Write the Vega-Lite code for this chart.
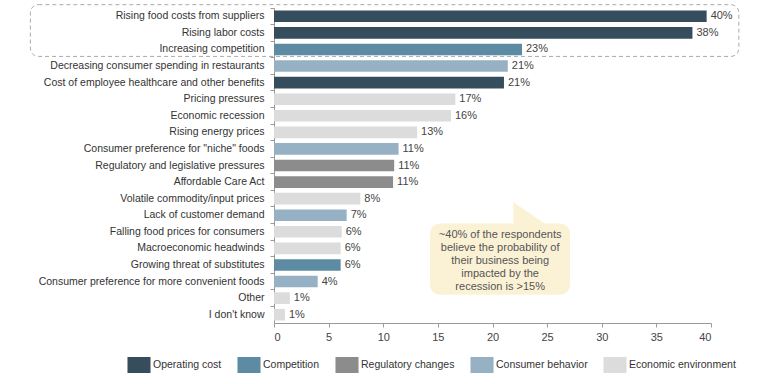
{
  "$schema": "https://vega.github.io/schema/vega-lite/v6.json",
  "autosize": "none",
  "width": 437,
  "height": 315,
  "padding": {"left": 274, "top": 8, "right": 73, "bottom": 61},
  "background": "white",
  "config": {
    "view": {"stroke": null},
    "font": "Liberation Sans",
    "text": {"font": "Liberation Sans"}
  },
  "datasets": {
    "bars": [
      {"cat": "Rising food costs from suppliers", "value": 39.6, "label": "40%", "group": "Operating cost"},
      {"cat": "Rising labor costs", "value": 38.3, "label": "38%", "group": "Operating cost"},
      {"cat": "Increasing competition", "value": 22.7, "label": "23%", "group": "Competition"},
      {"cat": "Decreasing consumer spending in restaurants", "value": 21.4, "label": "21%", "group": "Consumer behavior"},
      {"cat": "Cost of employee healthcare and other benefits", "value": 21.05, "label": "21%", "group": "Operating cost"},
      {"cat": "Pricing pressures", "value": 16.6, "label": "17%", "group": "Economic environment"},
      {"cat": "Economic recession", "value": 16.2, "label": "16%", "group": "Economic environment"},
      {"cat": "Rising energy prices", "value": 13.1, "label": "13%", "group": "Economic environment"},
      {"cat": "Consumer preference for \"niche\" foods", "value": 11.4, "label": "11%", "group": "Consumer behavior"},
      {"cat": "Regulatory and legislative pressures", "value": 11.0, "label": "11%", "group": "Regulatory changes"},
      {"cat": "Affordable Care Act", "value": 10.9, "label": "11%", "group": "Regulatory changes"},
      {"cat": "Volatile commodity/input prices", "value": 7.9, "label": "8%", "group": "Economic environment"},
      {"cat": "Lack of customer demand", "value": 6.65, "label": "7%", "group": "Consumer behavior"},
      {"cat": "Falling food prices for consumers", "value": 6.2, "label": "6%", "group": "Economic environment"},
      {"cat": "Macroeconomic headwinds", "value": 6.1, "label": "6%", "group": "Economic environment"},
      {"cat": "Growing threat of substitutes", "value": 6.1, "label": "6%", "group": "Competition"},
      {"cat": "Consumer preference for more convenient foods", "value": 4.0, "label": "4%", "group": "Consumer behavior"},
      {"cat": "Other", "value": 1.45, "label": "1%", "group": "Economic environment"},
      {"cat": "I don't know", "value": 1.0, "label": "1%", "group": "Economic environment"}
    ],
    "box": [{"x": -22.3, "x2": 42.55, "y": -0.2, "y2": 2.92}],
    "callout": [{"x": 14.28, "x2": 27.1, "y": 13.0, "y2": 17.3, "tx": 20.7, "ty": 13.7, "text": "~40% of the respondents\nbelieve the probability of\ntheir business being\nimpacted by the\nrecession is >15%"}],
    "pointer": [
      {"x": 21.9, "top": 11.7, "base": 13.1},
      {"x": 25.0, "top": 13.1, "base": 13.1}
    ]
  },
  "layer": [
    {
      "data": {"name": "bars"},
      "encoding": {
        "y": {
          "field": "cat", "type": "nominal", "sort": null, "title": null,
          "scale": {"paddingInner": 0.3, "paddingOuter": 0.15},
          "axis": {
            "domainColor": "#9a9a9a", "tickColor": "#9a9a9a", "tickSize": 4,
            "bandPosition": -0.21, "labelFontSize": 10.5, "labelColor": "#333333",
            "labelPadding": 6, "labelLimit": 400
          }
        },
        "x": {
          "field": "value", "type": "quantitative", "title": null,
          "scale": {"domain": [0, 40], "nice": false},
          "axis": {
            "values": [0, 5, 10, 15, 20, 25, 30, 35, 40], "grid": false,
            "domainColor": "#9a9a9a", "tickColor": "#9a9a9a", "tickSize": 4,
            "labelFontSize": 11, "labelColor": "#444444", "labelPadding": 4
          }
        }
      },
      "layer": [
        {
          "mark": {"type": "bar"},
          "encoding": {
            "color": {
              "field": "group", "type": "nominal",
              "scale": {
                "domain": ["Operating cost", "Competition", "Regulatory changes", "Consumer behavior", "Economic environment"],
                "range": ["#364d5e", "#5e8ba4", "#8c8c8c", "#96b1c3", "#dcdcdc"]
              },
              "legend": {
                "title": null, "orient": "none", "direction": "horizontal",
                "legendX": -143, "legendY": 349,
                "symbolType": "M-1.44,-1L1.44,-1L1.44,1L-1.44,1Z",
                "symbolSize": 256, "symbolStrokeWidth": 0, "symbolOpacity": 1,
                "labelFontSize": 10.5, "labelColor": "#333333", "labelOffset": 6,
                "columnPadding": 15
              }
            }
          }
        },
        {
          "mark": {"type": "text", "align": "left", "dx": 4, "fontSize": 11, "color": "#444444"},
          "encoding": {"text": {"field": "label"}}
        }
      ]
    },
    {
      "data": {"name": "box"},
      "mark": {"type": "rect", "fill": null, "stroke": "#aaaaaa", "strokeDash": [4, 3], "strokeWidth": 1, "cornerRadius": 8, "clip": false},
      "encoding": {
        "x": {"field": "x", "type": "quantitative"},
        "x2": {"field": "x2"},
        "y": {"field": "y", "type": "quantitative", "scale": {"domain": [0, 19], "reverse": true, "nice": false, "zero": false}, "axis": null},
        "y2": {"field": "y2"}
      }
    },
    {
      "data": {"name": "pointer"},
      "mark": {"type": "area", "color": "#fbf2d6", "opacity": 1},
      "encoding": {
        "x": {"field": "x", "type": "quantitative"},
        "y": {"field": "top", "type": "quantitative", "scale": {"domain": [0, 19], "reverse": true, "nice": false, "zero": false}, "axis": null},
        "y2": {"field": "base"}
      }
    },
    {
      "data": {"name": "callout"},
      "layer": [
        {
          "mark": {"type": "rect", "color": "#fbf2d6", "cornerRadius": 10},
          "encoding": {
            "x": {"field": "x", "type": "quantitative"},
            "x2": {"field": "x2"},
            "y": {"field": "y", "type": "quantitative", "scale": {"domain": [0, 19], "reverse": true, "nice": false, "zero": false}, "axis": null},
            "y2": {"field": "y2"}
          }
        },
        {
          "mark": {"type": "text", "align": "center", "baseline": "middle", "lineBreak": "\n", "lineHeight": 13, "fontSize": 11, "color": "#555555"},
          "encoding": {
            "x": {"field": "tx", "type": "quantitative"},
            "y": {"field": "ty", "type": "quantitative", "scale": {"domain": [0, 19], "reverse": true, "nice": false, "zero": false}, "axis": null},
            "text": {"field": "text"}
          }
        }
      ]
    }
  ],
  "resolve": {"scale": {"y": "independent"}, "axis": {"y": "independent"}}
}
